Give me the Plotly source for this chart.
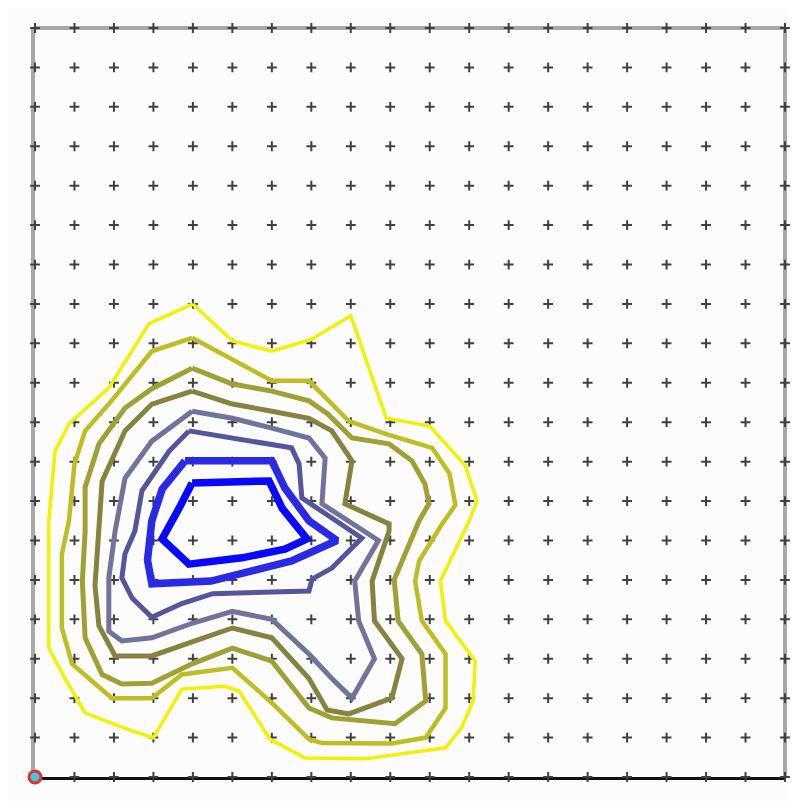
import numpy as np
import plotly.graph_objects as go

# grid of sample points (0..19 on both axes)
grid_x = list(range(20))
grid_y = list(range(20))

# contour levels, outermost (yellow) to innermost (blue), points in grid units
level_1 = [(4.0, 12.0), (5.0, 11.06), (6.0, 10.8), (7.0, 11.1), (8.0, 11.7), (8.9, 9.1), (10.0, 8.9),
           (10.9, 7.9), (11.2, 7.0), (11.0, 6.5), (10.27, 4.97), (10.4, 3.96), (11.15, 2.94), (11.1, 1.93),
           (10.8, 1.24), (10.4, 0.74), (8.36, 0.46), (6.84, 0.48), (5.95, 0.96), (5.17, 2.18), (4.8, 2.3),
           (3.72, 2.23), (3.0, 1.0), (2.46, 1.17), (1.27, 1.62), (0.76, 2.5), (0.35, 3.27), (0.35, 6.5),
           (0.51, 8.27), (0.86, 8.96), (1.87, 9.87), (2.89, 11.5), (4.0, 12.0)]
level_2 = [(3.98, 11.14), (5.0, 10.6), (6.0, 10.05), (6.94, 10.05), (7.95, 9.03), (8.9, 8.7), (10.06, 8.35),
           (10.5, 7.7), (10.65, 6.9), (10.3, 6.4), (9.73, 5.48), (9.63, 4.97), (9.8, 3.96), (10.4, 3.12),
           (10.4, 1.75), (9.9, 1.0), (9.04, 0.85), (7.27, 0.86), (6.94, 0.96), (6.0, 1.88), (5.0, 2.77),
           (3.72, 2.6), (2.96, 2.0), (1.95, 2.0), (0.94, 2.87), (0.68, 3.78), (0.68, 5.65), (0.86, 6.5),
           (1.0, 7.94), (1.27, 8.78), (1.87, 9.46), (2.96, 10.8), (3.98, 11.14)]
level_3 = [(3.98, 10.37), (5.0, 9.97), (6.0, 9.79), (6.94, 9.54), (7.4, 9.22), (8.03, 8.6), (8.97, 8.45),
           (9.55, 8.02), (9.88, 7.43), (9.98, 6.93), (9.73, 6.5), (9.1, 5.0), (9.2, 3.96), (9.8, 3.12),
           (9.9, 1.93), (9.12, 1.35), (7.52, 1.5), (6.94, 1.75), (6.0, 2.94), (5.0, 3.27), (3.98, 2.87),
           (2.96, 2.38), (2.2, 2.36), (1.7, 2.6), (1.27, 3.53), (1.2, 4.97), (1.27, 6.24), (1.27, 7.35),
           (1.62, 8.45), (2.28, 9.36), (2.96, 9.85), (3.98, 10.37)]
level_4 = [(3.98, 9.79), (5.0, 9.46), (6.0, 9.28), (6.94, 9.1), (7.52, 8.78), (8.03, 8.02), (7.85, 6.93),
           (8.97, 6.42), (8.97, 6.24), (8.54, 4.97), (8.6, 3.96), (9.3, 3.0), (9.04, 2.0), (7.95, 1.6),
           (7.4, 1.7), (6.94, 2.5), (6.0, 3.53), (5.0, 3.78), (3.98, 3.43), (2.96, 3.07), (2.03, 3.07),
           (1.62, 3.83), (1.52, 4.85), (1.62, 6.5), (1.7, 7.5), (2.28, 8.78), (2.96, 9.46), (3.98, 9.79)]
level_5 = [(3.98, 9.28), (5.0, 9.1), (6.0, 8.85), (6.94, 8.6), (7.35, 8.09), (7.27, 6.93), (8.7, 6.0),
           (8.1, 4.97), (8.2, 3.96), (8.6, 3.0), (8.03, 2.0), (7.52, 2.5), (6.94, 3.12), (6.0, 4.0),
           (5.0, 4.2), (3.98, 3.9), (2.96, 3.53), (2.2, 3.45), (1.87, 3.7), (1.87, 5.05), (2.03, 6.24),
           (2.28, 7.58), (2.96, 8.52), (3.98, 9.28)]
level_6 = [(3.9, 8.78), (5.0, 8.6), (6.0, 8.45), (6.5, 8.35), (6.69, 7.94), (6.76, 7.08), (7.52, 6.57),
           (8.28, 6.06), (7.52, 5.3), (7.02, 5.02), (6.94, 4.72), (4.5, 4.65), (3.72, 4.4), (2.96, 4.05),
           (2.46, 4.54), (2.2, 5.05), (2.28, 5.66), (2.53, 6.24), (2.71, 7.26), (3.4, 8.27), (3.9, 8.78)]
level_7 = [(3.8, 8.02), (6.0, 8.02), (6.33, 7.33), (6.94, 6.5), (7.65, 6.0), (6.5, 5.48), (4.46, 4.97),
           (2.96, 4.9), (2.85, 5.5), (2.96, 6.5), (3.22, 7.3), (3.8, 8.02)]
level_8 = [(3.98, 7.46), (5.93, 7.51), (6.26, 6.82), (6.89, 6.04), (6.33, 5.78), (5.24, 5.56), (3.9, 5.4),
           (3.22, 6.04), (3.65, 6.82), (3.98, 7.46)]

levels = [level_1, level_2, level_3, level_4, level_5, level_6, level_7, level_8]
level_colors = ["#f2f200", "#bebe22", "#a0a034", "#84843e", "#72729a", "#55559c", "#2a2ae6", "#0808ff"]
level_widths = [3.5, 4.5, 5, 5, 5, 5, 7.5, 7.5]

fig = go.Figure()

gx, gy = np.meshgrid(grid_x, grid_y)
fig.add_trace(go.Scatter(
    x=gx.ravel(), y=gy.ravel(), mode="markers",
    marker=dict(symbol="cross-thin", size=7, line=dict(width=2, color="#404040")),
    hoverinfo="skip", showlegend=False, cliponaxis=False))

for pts, col, w in zip(levels, level_colors, level_widths):
    xs = [p[0] for p in pts]
    ys = [p[1] for p in pts]
    fig.add_trace(go.Scatter(x=xs, y=ys, mode="lines",
                             line=dict(color=col, width=w),
                             showlegend=False, hoverinfo="skip"))

fig.add_trace(go.Scatter(x=[grid_x[0]], y=[grid_y[0]], mode="markers",
                         marker=dict(symbol="circle", size=12, color="#40c8d8",
                                     line=dict(color="#e03030", width=3)),
                         showlegend=False, hoverinfo="skip", cliponaxis=False))

fig.update_layout(
    width=798, height=801,
    margin=dict(l=27, r=21, t=20, b=32),
    paper_bgcolor="#fcfcfc", plot_bgcolor="#fcfcfc",
    xaxis=dict(range=[grid_x[0], grid_x[-1]], showgrid=False, zeroline=False, layer="below traces",
               showticklabels=False, ticks="", showline=True, linecolor="#111111", linewidth=3),
    yaxis=dict(range=[grid_y[0], grid_y[-1]], showgrid=False, zeroline=False, layer="below traces",
               showticklabels=False, ticks="", showline=True, linecolor="#a8a8a8", linewidth=4),
    shapes=[
        dict(type="line", xref="paper", yref="paper", x0=0, x1=1, y0=1, y1=1,
             line=dict(color="#a8a8a8", width=4), layer="below"),
        dict(type="line", xref="paper", yref="paper", x0=1, x1=1, y0=0, y1=1,
             line=dict(color="#a8a8a8", width=4), layer="below"),
    ],
)

fig.write_html("out.html")
